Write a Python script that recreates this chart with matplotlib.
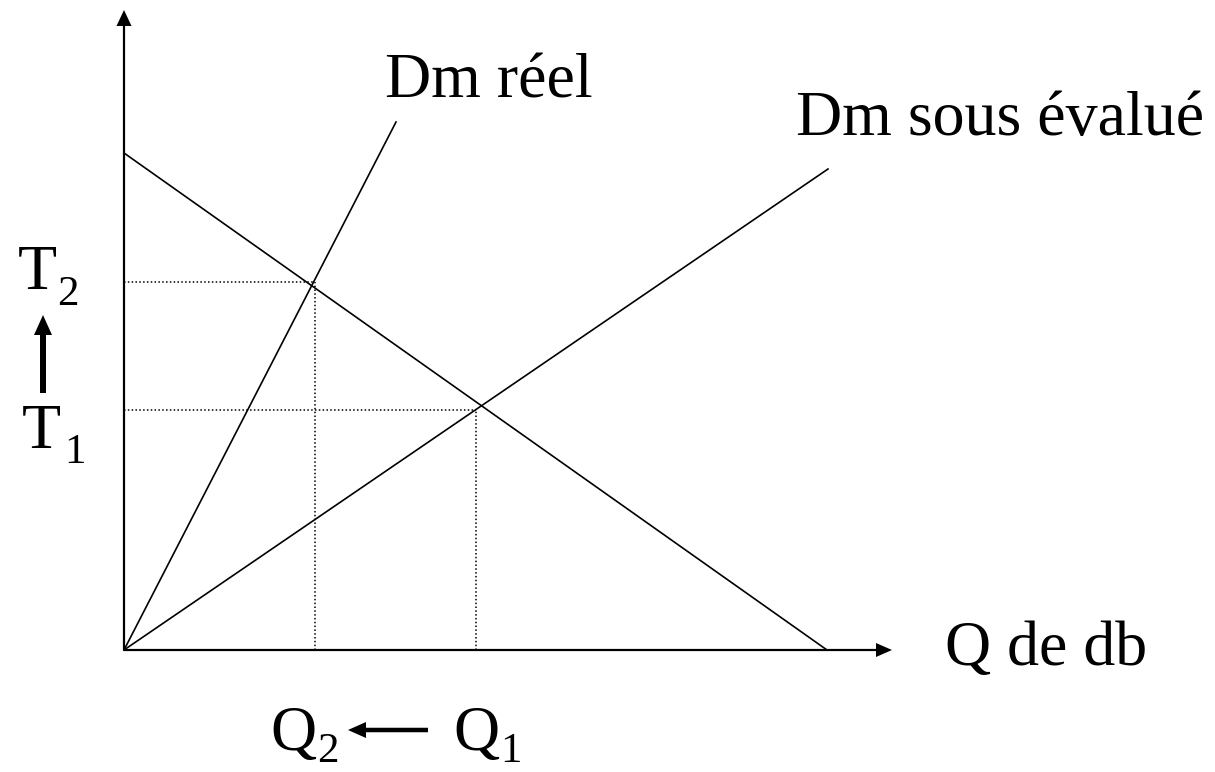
import matplotlib
matplotlib.use('Agg')
import matplotlib.pyplot as plt

plt.rcParams['font.family'] = ['Liberation Serif', 'DejaVu Serif']

# courbes (unites: 1 = 100 px, origine au coin des axes)
demande_x = [0, 7.03]
demande_y = [4.97, 0]
reel_x = [0, 2.72]
reel_y = [0, 5.28]
sous_x = [0, 7.04]
sous_y = [0, 4.81]

# niveaux T et Q (T1, T2) / (Q1, Q2)
T_niv = [2.40, 3.68]
Q_niv = [3.52, 1.91]

fig = plt.figure(figsize=(12.15, 7.72), dpi=100)
ax = fig.add_axes([0, 0, 1, 1])
ax.set_xlim(-1.24, 10.91)
ax.set_ylim(-1.22, 6.50)
ax.axis('off')

# axes avec fleches
ax.arrow(0, 0, 7.68, 0, width=0.022, head_width=0.14, head_length=0.16,
         length_includes_head=True, fc='black', ec='none')
ax.arrow(0, 0, 0, 6.40, width=0.022, head_width=0.15, head_length=0.16,
         length_includes_head=True, fc='black', ec='none')

# droites
ax.plot(demande_x, demande_y, color='black', lw=1.2)
ax.plot(reel_x, reel_y, color='black', lw=1.2)
ax.plot(sous_x, sous_y, color='black', lw=1.2)

# pointilles
for t, q in zip(T_niv, Q_niv):
    ax.plot([0, q], [t, t], color='black', lw=1.1, ls=(0, (1, 1.5)))
    ax.plot([q, q], [0, t], color='black', lw=1.1, ls=(0, (1, 1.5)))

# textes
fs = 46
fs_sub = 31
ax.text(2.61, 5.52, 'Dm réel', fontsize=fs, ha='left', va='baseline')
ax.text(6.72, 5.15, 'Dm sous évalué', fontsize=fs, ha='left', va='baseline')
ax.text(8.21, -0.15, 'Q de db', fontsize=fs, ha='left', va='baseline')

ax.text(-1.06, 3.61, 'T', fontsize=fs, ha='left', va='baseline')
ax.text(-0.67, 3.45, '2', fontsize=fs_sub, ha='left', va='baseline')
ax.text(-1.02, 2.02, 'T', fontsize=fs, ha='left', va='baseline')
ax.text(-0.60, 1.87, '1', fontsize=fs_sub, ha='left', va='baseline')

ax.text(1.46, -1.00, 'Q', fontsize=fs, ha='left', va='baseline')
ax.text(1.93, -1.12, '2', fontsize=fs_sub, ha='left', va='baseline')
ax.text(3.29, -1.00, 'Q', fontsize=fs, ha='left', va='baseline')
ax.text(3.76, -1.12, '1', fontsize=fs_sub, ha='left', va='baseline')

# fleches de variation
ax.arrow(-0.81, 2.57, 0, 0.78, width=0.06, head_width=0.18, head_length=0.2,
         length_includes_head=True, fc='black', ec='none')
ax.arrow(3.04, -0.80, -0.80, 0, width=0.045, head_width=0.16, head_length=0.18,
         length_includes_head=True, fc='black', ec='none')

fig.savefig('out.png', dpi=100)
